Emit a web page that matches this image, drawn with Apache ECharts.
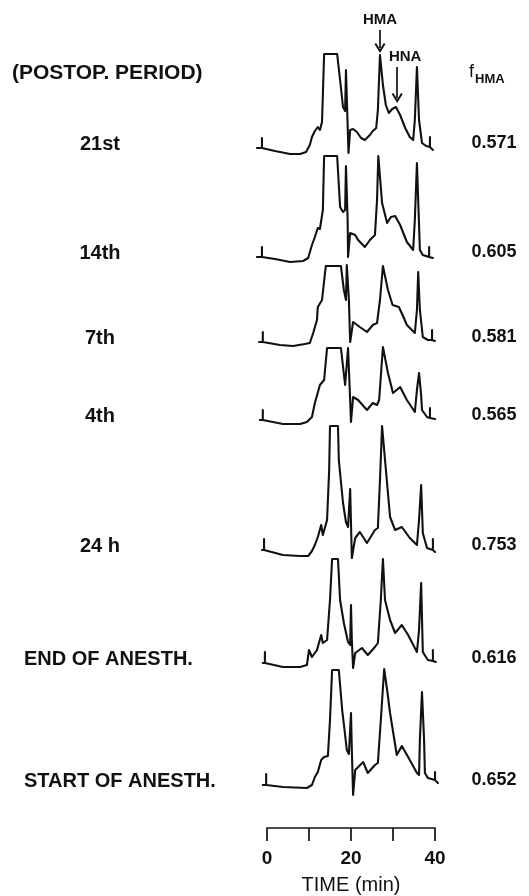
<!DOCTYPE html>
<html><head><meta charset="utf-8">
<script src="https://cdn.jsdelivr.net/npm/echarts@6/dist/echarts.min.js"></script>
<style>html,body{margin:0;padding:0;background:#fff}#c{width:529px;height:896px}</style>
</head><body><div id="c"></div>
<script>
// Labels (postoperative period) and f_HMA values
const periods = ['21st', '14th', '7th', '4th', '24 h', 'END OF ANESTH.', 'START OF ANESTH.'];
const fHMA = ['0.571', '0.605', '0.581', '0.565', '0.753', '0.616', '0.652'];
const timeTicks = [0, 10, 20, 30, 40];
const timeLabels = ['0', '', '20', '', '40'];

// Chromatogram traces: [time (min), detector response (arb. units)]
const tr21st = [[-2.4,0],[-1.2,0],[-1.2,10],[-1.2,0],[1.9,-3],[5.5,-6],[7.9,-6],[9.3,-4],[10.2,3],[10.7,11],[11.4,17],[12.1,21],[12.6,18],[13.1,26],[13.6,94],[16.7,94],[17.4,68],[18.1,41],[18.6,37],[18.8,78],[19.4,-5],[19.8,18],[20.5,19],[21.4,16],[22.4,10],[23.3,8],[24.5,13],[25.2,17],[26.0,20],[26.4,38],[26.9,93],[27.6,63],[28.3,43],[29.0,35],[29.8,39],[30.7,41],[31.7,33],[32.9,20],[34.0,11],[34.8,8],[35.2,28],[35.7,81],[36.2,28],[36.9,5],[37.9,2],[38.8,1],[38.8,11],[38.8,1],[39.5,-2]];
const tr14th = [[-2.4,0],[-1.2,0],[-1.2,10],[-1.2,0],[1.9,-2],[5.5,-5],[8.6,-4],[9.8,-1],[10.7,12],[11.4,20],[12.1,29],[12.6,28],[13.3,47],[13.6,101],[16.7,101],[17.4,50],[18.1,45],[18.6,47],[18.8,91],[19.2,37],[19.3,0],[19.8,24],[21.0,22],[21.7,17],[23.3,10],[24.5,17],[25.7,22],[26.2,57],[26.5,101],[27.4,54],[28.6,34],[29.5,40],[30.5,41],[31.7,32],[33.3,15],[34.8,7],[35.2,37],[35.7,94],[36.2,32],[36.4,7],[37.1,2],[38.6,0],[38.6,10],[38.6,0],[39.5,-1]];
const tr7th = [[-1.9,0],[-1.0,0],[-1.0,10],[-1.0,0],[3.1,-3],[6.2,-4],[9.0,-2],[10.2,-1],[11.0,9],[11.9,22],[12.1,35],[13.1,42],[14.0,76],[17.6,76],[18.3,52],[18.8,42],[19.0,77],[19.5,42],[19.8,0],[20.5,20],[22.1,15],[23.8,10],[25.2,17],[26.2,19],[26.9,42],[27.6,76],[28.8,52],[29.9,37],[31.4,35],[32.6,24],[33.3,17],[35.2,9],[35.7,32],[36.0,70],[36.4,32],[37.1,5],[38.3,2],[39.3,2],[39.3,12],[39.3,2],[40.0,1]];
const tr4th = [[-1.7,0],[-1.0,0],[-1.0,10],[-1.0,0],[3.8,-4],[7.9,-4],[9.5,-2],[10.7,3],[11.4,17],[12.6,35],[13.6,40],[14.3,72],[17.6,72],[18.6,35],[19.0,33],[19.3,72],[19.8,20],[20.0,-2],[20.5,23],[21.7,20],[23.8,10],[25.2,17],[26.2,15],[26.7,20],[27.6,73],[28.8,47],[30.0,27],[31.7,33],[33.3,20],[35.2,8],[35.7,30],[36.2,47],[36.7,25],[36.9,10],[38.1,3],[38.8,2],[38.8,12],[38.8,2],[40.0,1]];
const tr24h = [[-1.2,0],[-0.7,0],[-0.7,11],[-0.7,0],[3.8,-5],[7.9,-6],[9.8,-6],[10.7,-1],[11.4,5],[12.1,13],[12.9,25],[13.3,15],[14.3,30],[14.8,80],[15.0,124],[16.9,124],[17.1,90],[18.1,47],[18.8,28],[19.3,23],[19.8,61],[20.2,-8],[21.0,12],[22.1,18],[23.8,7],[25.7,20],[26.4,22],[26.9,70],[27.4,124],[28.1,90],[29.3,33],[30.5,20],[32.1,23],[34.0,12],[35.7,5],[36.2,30],[36.7,65],[37.1,17],[38.1,2],[39.5,0],[39.5,11],[39.5,0],[40.0,-2]];
const trEnd = [[-1.0,0],[-0.5,0],[-0.5,11],[-0.5,0],[3.8,-4],[7.9,-4],[9.5,-2],[10.0,13],[10.7,6],[11.9,13],[12.9,28],[13.3,20],[14.3,23],[15.0,63],[15.5,104],[16.9,104],[17.4,63],[18.3,40],[19.3,21],[19.8,18],[20.0,58],[20.2,23],[20.5,-5],[21.0,10],[22.6,15],[24.0,8],[25.7,16],[26.4,20],[27.1,63],[27.6,104],[28.1,63],[29.3,43],[30.5,30],[32.1,38],[33.6,28],[35.7,11],[36.2,33],[36.7,80],[37.1,11],[38.3,3],[39.5,2],[39.5,13],[39.5,2],[40.2,1]];
const trStart = [[-1.0,0],[-0.2,0],[-0.2,11],[-0.2,0],[3.8,-2],[9.5,-3],[10.7,0],[11.4,8],[12.1,13],[12.9,25],[13.6,28],[14.5,29],[15.0,65],[15.5,115],[17.1,115],[17.9,75],[18.6,50],[19.0,35],[19.5,31],[20.0,72],[20.2,35],[20.5,-10],[21.0,15],[22.9,23],[24.0,12],[25.7,20],[26.4,22],[27.1,65],[27.9,116],[28.6,95],[29.3,72],[30.9,30],[32.1,39],[33.6,28],[35.7,12],[36.2,10],[36.4,45],[36.9,93],[37.4,45],[37.6,12],[38.3,7],[40.0,5],[40.0,13],[40.0,5],[40.7,2]];
const traces = [tr21st, tr14th, tr7th, tr4th, tr24h, trEnd, trStart];

// Peak annotations on the top trace: [time, text level, arrow start, arrow end]
const hmaMark = [26.9, 128, 118, 100];
const hnaMark = [31.0, 81, 50];
const hnaText = [32.9, 91];

// ---- layout ----
const baseY = [148, 257, 342, 420, 550, 663, 785];
const X_MIN = -4, X_MAX = 44, PX_PER_MIN = 4.2, X0 = 267;
const Y_MIN = -20, Y_MAX = 140;
const font = "'Liberation Sans', Arial, Helvetica, sans-serif";
const ink = '#111';

const grids = [], xAxes = [], yAxes = [], series = [];
traces.forEach((d, i) => {
  grids.push({left: X0 + X_MIN * PX_PER_MIN, width: (X_MAX - X_MIN) * PX_PER_MIN,
              top: baseY[i] - Y_MAX, height: Y_MAX - Y_MIN});
  xAxes.push({type: 'value', gridIndex: i, min: X_MIN, max: X_MAX, show: false});
  yAxes.push({type: 'value', gridIndex: i, min: Y_MIN, max: Y_MAX, show: false});
  const s = {type: 'line', xAxisIndex: i, yAxisIndex: i, data: d, showSymbol: false,
             clip: false, lineStyle: {color: ink, width: 2.1, join: 'round', cap: 'round'}, silent: true};
  if (i === 0) {
    s.markLine = {
      silent: true, animation: false,
      symbol: ['none', 'path://M5,0 L10,9 L8.5,10 L5,3.8 L1.5,10 L0,9 Z'],
      symbolSize: [11, 10],
      lineStyle: {color: ink, width: 1.7, type: 'solid'},
      label: {show: false},
      data: [
        [{coord: [hmaMark[0], hmaMark[2]]}, {coord: [hmaMark[0], hmaMark[3]]}],
        [{coord: [hnaMark[0], hnaMark[1]]}, {coord: [hnaMark[0], hnaMark[2]]}]
      ]
    };
    s.markPoint = {
      silent: true, animation: false, symbol: 'circle', symbolSize: 1,
      itemStyle: {color: 'rgba(0,0,0,0)'},
      label: {show: true, position: 'inside', color: ink, fontFamily: font,
              fontWeight: 'bold', fontSize: 15, formatter: p => p.name},
      data: [{name: 'HMA', coord: [hmaMark[0], hmaMark[1]]},
             {name: 'HNA', coord: hnaText}]
    };
  }
  series.push(s);
});

// time axis
const ai = traces.length;
grids.push({left: X0, width: 40 * PX_PER_MIN, top: 800, height: 30});
xAxes.push({type: 'value', gridIndex: ai, min: timeTicks[0], max: timeTicks[timeTicks.length - 1],
  interval: timeTicks[1] - timeTicks[0],
  name: 'TIME (min)', nameLocation: 'middle', nameGap: 47,
  nameTextStyle: {color: ink, fontFamily: font, fontSize: 20},
  axisLine: {show: true, lineStyle: {color: ink, width: 1.7}},
  axisTick: {show: true, length: 13, lineStyle: {color: ink, width: 1.7}},
  splitLine: {show: false},
  axisLabel: {color: ink, fontFamily: font, fontSize: 19, fontWeight: 'bold', margin: 21,
    formatter: v => timeLabels[timeTicks.indexOf(v)] || ''}
});
yAxes.push({type: 'value', gridIndex: ai, show: false});

// text labels
const graphic = [];
const lbl = (text, x, y, align, size, weight) => graphic.push({type: 'text',
  x: x, y: y, style: {text: text, x: 0, y: 0, textAlign: align, textVerticalAlign: 'middle',
  fill: ink, font: (weight || 'bold') + ' ' + size + 'px ' + font}, silent: true});
lbl('(POSTOP. PERIOD)', 12, 73, 'left', 21);
periods.forEach((p, i) => {
  const long = p.length > 6;
  lbl(p, long ? 24 : 100, baseY[i] - 4, long ? 'left' : 'center', 20);
});
fHMA.forEach((v, i) => lbl(v, 494, baseY[i] - 5, 'center', 18));
lbl('f', 469, 72, 'left', 18, 'normal');
lbl('HMA', 475, 79, 'left', 13);

const chart = echarts.init(document.getElementById('c'), null, {renderer: 'canvas'});
chart.setOption({animation: false, backgroundColor: '#fff', grid: grids, xAxis: xAxes,
  yAxis: yAxes, series: series, graphic: graphic});
</script></body></html>
